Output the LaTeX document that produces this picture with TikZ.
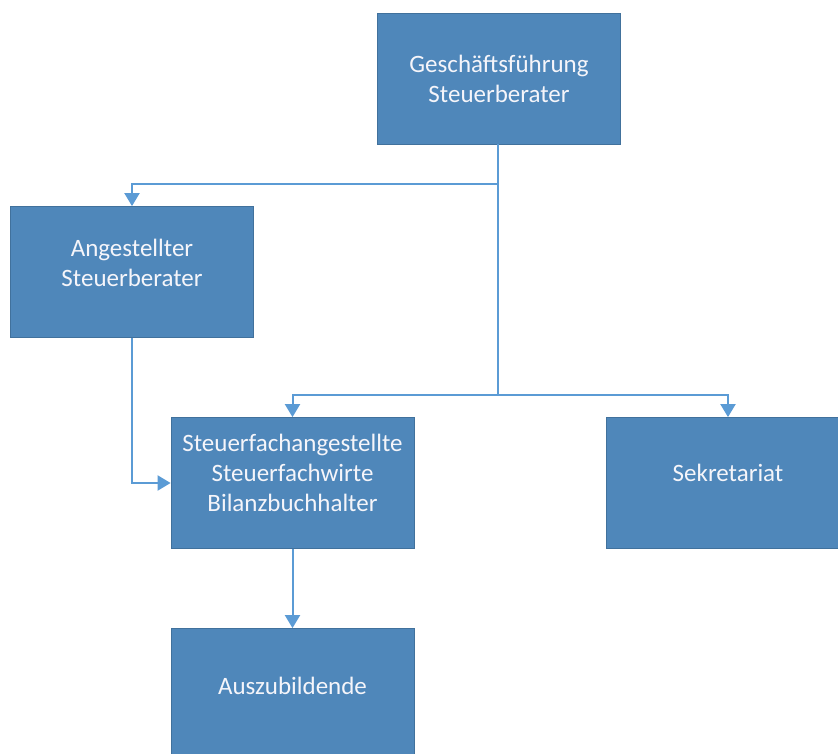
\documentclass[tikz,border=0pt]{standalone}
\usepackage{fontspec}
\setmainfont{Carlito}
\usetikzlibrary{arrows.meta}
\definecolor{boxfill}{RGB}{79,135,186}
\definecolor{boxline}{RGB}{65,113,156}
\definecolor{conn}{RGB}{91,155,213}
\definecolor{txt}{RGB}{245,245,250}
\tikzset{
  box/.style={draw=boxline, line width=0.8pt, fill=boxfill, minimum width=243pt, minimum height=131pt, inner sep=0pt},
  lbl/.style={text=txt, align=center, font=\fontsize{25}{30}\selectfont, inner sep=0pt},
  conline/.style={draw=conn, line width=2pt},
  arr/.style={conline, -{Triangle[width=15pt,length=13pt]}}
}
\begin{document}
\begin{tikzpicture}[x=1pt,y=-1pt]
\useasboundingbox (0,0) rectangle (838,754);
\clip (0,0) rectangle (838,754);
\fill[white] (0,0) rectangle (838,754);
\node[box] (gf) at (499,78.5) {};
\node[box] (ang) at (132,272) {};
\node[box] (sfa) at (292.5,483) {};
\node[box] (sek) at (728,483) {};
\node[box] (azb) at (292.5,694) {};
\node[lbl] (gfT) at (gf.center) {Geschäftsführung\\Steuerberater};
\node[lbl] (angT) at ([yshift=9pt]ang.center) {Angestellter\\Steuerberater};
\node[lbl] (sfaT) at ([yshift=10pt]sfa.center) {Steuerfachangestellte\\Steuerfachwirte\\Bilanzbuchhalter};
\node[lbl] (sekT) at ([yshift=10pt]sek.center) {Sekretariat};
\node[lbl] (azbT) at ([yshift=8pt]azb.center) {Auszubildende};
\coordinate (j1) at (498,184);
\coordinate (j2) at (498,395);
\draw[conline] (gf.south -| j1) -- (j2);
\draw[arr] (j1) -| (ang.north);
\draw[arr] (j2) -| (sfa.north);
\draw[arr] (j2) -| (sek.north);
\draw[arr] (ang.south) |- (sfa.west);
\draw[arr] (sfa.south) -- (azb.north);
\end{tikzpicture}
\end{document}
